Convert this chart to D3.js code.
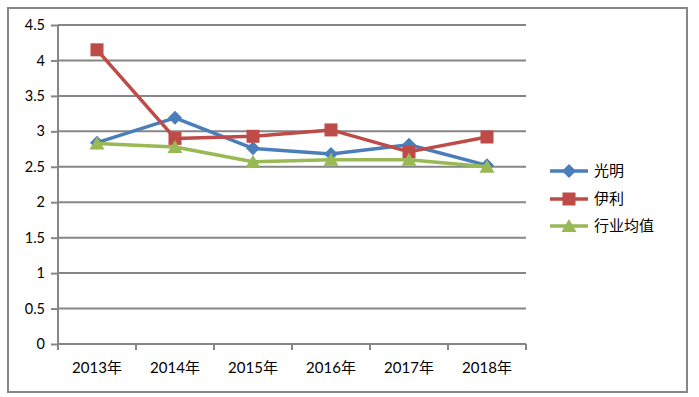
<!DOCTYPE html>
<html><head><meta charset="utf-8">
<script src="https://cdn.jsdelivr.net/npm/d3@7"></script>
<style>body{margin:0;background:#fff}svg{display:block}</style>
</head><body>
<script>
const categories = ["2013年","2014年","2015年","2016年","2017年","2018年"];
const guangming = [2.84, 3.19, 2.76, 2.68, 2.81, 2.52];
const yili = [4.15, 2.90, 2.93, 3.02, 2.71, 2.92];
const industryAvg = [2.83, 2.78, 2.57, 2.60, 2.60, 2.50];
const seriesNames = ["光明","伊利","行业均值"];
const yTicks = [0,0.5,1,1.5,2,2.5,3,3.5,4,4.5];
const colors = ["#4a7ebb","#be4b48","#98b954"];
const markers = ["diamond","square","triangle"];

const W=699,H=397;
const svg=d3.select("body").append("svg").attr("width",W).attr("height",H);
svg.append("rect").attr("x",8).attr("y",8).attr("width",679).attr("height",384)
  .attr("fill","#fff").attr("stroke","#868686").attr("stroke-width",2);

const x=d3.scaleBand().domain(categories).range([58,526]);
const y=d3.scaleLinear().domain([0,4.5]).range([344,25]);
const font="Lato, 'Noto Sans CJK SC', sans-serif";

// gridlines
svg.append("g").selectAll("line").data(yTicks.filter(d=>d>0)).join("line")
  .attr("x1",58).attr("x2",526).attr("y1",d=>y(d)).attr("y2",d=>y(d))
  .attr("stroke","#868686").attr("stroke-width",2);

const ya=svg.append("g").attr("transform","translate(58,0)")
  .call(d3.axisLeft(y).tickValues(yTicks).tickSize(7).tickPadding(6).tickFormat(d=>String(d)));
ya.select(".domain").attr("stroke","#868686").attr("stroke-width",2).attr("d","M0,344V25");
ya.selectAll(".tick line").attr("stroke","#868686").attr("stroke-width",2);
ya.selectAll("text").attr("font-family",font).attr("font-size",14.5).attr("fill","#000");

const xa=svg.append("g").attr("transform","translate(0,344)")
  .call(d3.axisBottom(x).tickSize(0).tickPadding(18));
xa.select(".domain").attr("stroke","#868686").attr("stroke-width",2).attr("d","M58,0H526");
xa.selectAll("text").attr("font-family",font).attr("font-size",15).attr("fill","#000");
// band boundary ticks
svg.append("g").selectAll("line").data(categories.concat(["end"])).join("line")
  .attr("x1",(d,i)=>58+i*x.bandwidth()).attr("x2",(d,i)=>58+i*x.bandwidth())
  .attr("y1",344).attr("y2",350).attr("stroke","#868686").attr("stroke-width",2);

function drawMarker(g,type,cx,cy,color){
  if(type==="diamond"){
    g.append("path").attr("d",`M${cx},${cy-7}L${cx+7},${cy}L${cx},${cy+7}L${cx-7},${cy}Z`).attr("fill",color);
  } else if(type==="square"){
    g.append("rect").attr("x",cx-6.5).attr("y",cy-6.5).attr("width",13).attr("height",13).attr("fill",color);
  } else {
    g.append("path").attr("d",`M${cx},${cy-7}L${cx+7.5},${cy+6}L${cx-7.5},${cy+6}Z`).attr("fill",color);
  }
}
const allSeries=[guangming,yili,industryAvg];
const line=d3.line().x((d,i)=>x(categories[i])+x.bandwidth()/2).y(d=>y(d));
allSeries.forEach((s,k)=>{
  const g=svg.append("g");
  g.append("path").attr("d",line(s)).attr("fill","none").attr("stroke",colors[k])
    .attr("stroke-width",3.5).attr("stroke-linejoin","round");
  s.forEach((v,i)=>drawMarker(g,markers[k],x(categories[i])+x.bandwidth()/2,y(v),colors[k]));
});

// legend
const ly=[171,199,226];
seriesNames.forEach((n,k)=>{
  const g=svg.append("g");
  g.append("line").attr("x1",550).attr("x2",588).attr("y1",ly[k]).attr("y2",ly[k])
    .attr("stroke",colors[k]).attr("stroke-width",3.5);
  drawMarker(g,markers[k],569,ly[k],colors[k]);
  g.append("text").attr("x",594).attr("y",ly[k]).attr("dy","0.35em")
    .attr("font-family","'Noto Sans CJK SC', sans-serif").attr("font-size",15).attr("fill","#000").text(n);
});
</script>
</body></html>
